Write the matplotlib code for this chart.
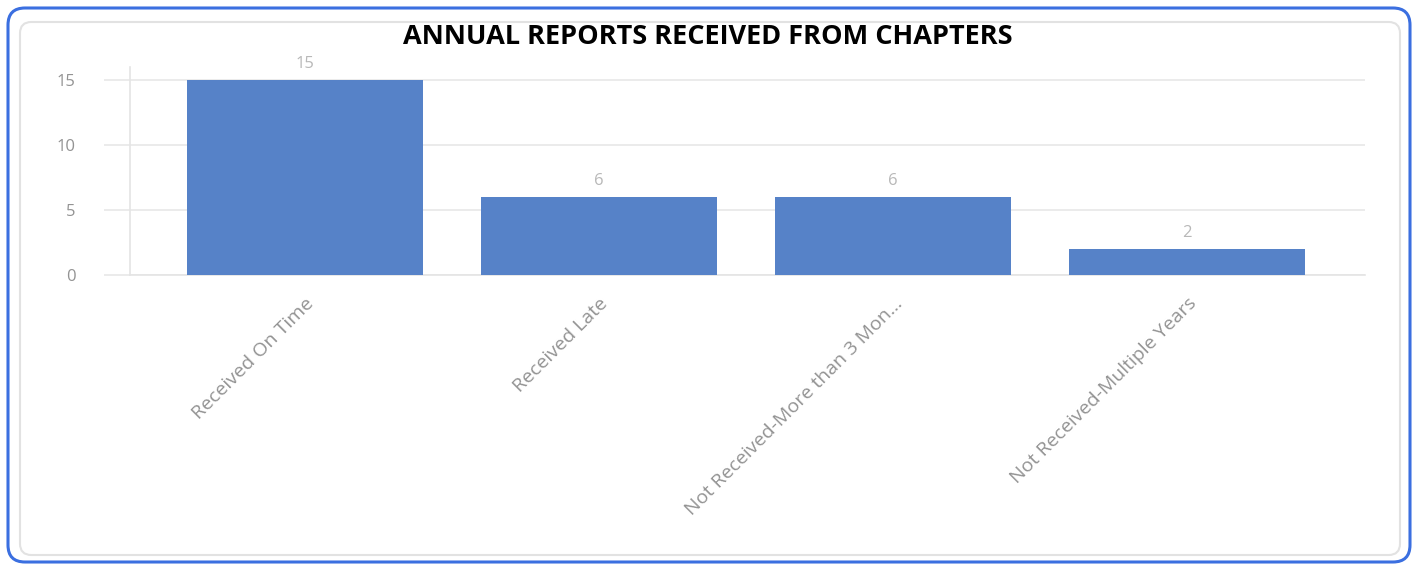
import matplotlib
matplotlib.use("Agg")
import matplotlib.pyplot as plt
from matplotlib.patches import FancyBboxPatch

categories = ["Received On Time", "Received Late", "Not Received-More than 3 Mon...", "Not Received-Multiple Years"]
values = [15, 6, 6, 2]
yticks = [0, 5, 10, 15]
title = "ANNUAL REPORTS RECEIVED FROM CHAPTERS"

W, H = 1416, 566
fig = plt.figure(figsize=(W / 100, H / 100), dpi=100)
fig.patch.set_facecolor("white")

def fx(px):
    return px / W

def fy(py):
    return 1 - py / H

# outer blue frame
outer = FancyBboxPatch((fx(8), fy(562)), fx(1410) - fx(8), fy(8) - fy(562),
                       boxstyle="round,pad=0,rounding_size=0.012",
                       transform=fig.transFigure, facecolor="white",
                       edgecolor="#3b6fe0", linewidth=2.2, mutation_aspect=W / H,
                       zorder=-2)
fig.patches.append(outer)
# inner gray card
inner = FancyBboxPatch((fx(20), fy(555)), fx(1400) - fx(20), fy(22) - fy(555),
                       boxstyle="round,pad=0,rounding_size=0.008",
                       transform=fig.transFigure, facecolor="white",
                       edgecolor="#e2e2e2", linewidth=1.5, mutation_aspect=W / H,
                       zorder=-1)
fig.patches.append(inner)

ax = fig.add_axes([fx(130), fy(275), fx(1365) - fx(130), fy(67) - fy(275)])
ax.set_zorder(2)
ax.set_facecolor("none")
x = list(range(len(categories)))
bars = ax.bar(x, values, width=0.8, color="#5682c8", zorder=3)
ax.set_xlim(-0.595, 3.605)
ax.set_ylim(0, 16)
ax.set_yticks(yticks)
ax.set_yticklabels([str(v) for v in yticks])
ax.yaxis.grid(True, color="#e8e8e8", linewidth=1.2, zorder=0)
ax.tick_params(axis="y", length=19, color="#e8e8e8", width=1.2, labelcolor="#939393",
               labelsize=12, pad=20)
ax.tick_params(axis="x", length=0, labelcolor="#939393", labelsize=14, pad=14)
ax.set_xticks(x)
ax.set_xticklabels(categories, rotation=45, ha="right", rotation_mode="anchor",
                   family="Open Sans")
for lbl in ax.get_yticklabels():
    lbl.set_family("Open Sans")
for s in ["top", "right"]:
    ax.spines[s].set_visible(False)
ax.spines["left"].set_color("#e4e4e4")
ax.spines["bottom"].set_color("#e4e4e4")
ax.spines["left"].set_linewidth(1.2)
ax.spines["bottom"].set_linewidth(1.2)

for xi, v in zip(x, values):
    ax.annotate(str(v), (xi, v), xytext=(0, 6), textcoords="offset points",
                ha="center", va="bottom", color="#b8b8b8", fontsize=12,
                family="Open Sans")

fig.text(fx(708), fy(37), title, ha="center", va="center", fontsize=19.5,
         fontweight="bold", family="Open Sans", color="black", zorder=5)

fig.savefig("out.png", dpi=100, facecolor="white")
